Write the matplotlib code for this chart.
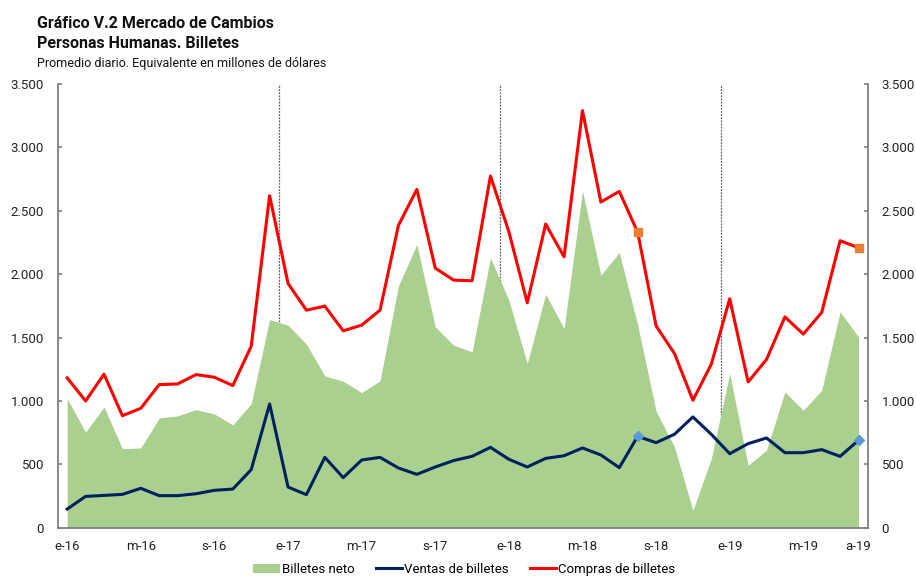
import matplotlib
matplotlib.use("Agg")
import matplotlib.pyplot as plt
from matplotlib.patches import Patch
from matplotlib.lines import Line2D
from matplotlib.ticker import FuncFormatter, MultipleLocator
import numpy as np

plt.rcParams['font.family'] = ['Roboto', 'DejaVu Sans']

# meses ene-16 .. ago-19
meses = ['e-16', 'f-16', 'm-16', 'a-16', 'm-16', 'j-16', 'j-16', 'a-16', 's-16', 'o-16', 'n-16', 'd-16',
         'e-17', 'f-17', 'm-17', 'a-17', 'm-17', 'j-17', 'j-17', 'a-17', 's-17', 'o-17', 'n-17', 'd-17',
         'e-18', 'f-18', 'm-18', 'a-18', 'm-18', 'j-18', 'j-18', 'a-18', 's-18', 'o-18', 'n-18', 'd-18',
         'e-19', 'f-19', 'm-19', 'a-19', 'm-19', 'j-19', 'j-19', 'a-19']

compras = [1182, 1000, 1211, 884, 942, 1129, 1134, 1208, 1187, 1121, 1432, 2619,
           1927, 1716, 1748, 1553, 1598, 1716, 2385, 2669, 2048, 1953, 1948, 2774,
           2335, 1774, 2395, 2137, 3290, 2569, 2653, 2330, 1592, 1374, 1005, 1290,
           1806, 1150, 1327, 1663, 1527, 1698, 2264, 2208]

ventas = [147, 247, 255, 263, 311, 253, 253, 268, 295, 305, 458, 976,
          321, 261, 555, 395, 534, 555, 471, 421, 479, 530, 563, 634,
          540, 479, 547, 568, 629, 574, 474, 721, 671, 737, 874, 737,
          584, 663, 708, 592, 592, 616, 563, 690]

neto = [1019, 753, 953, 624, 629, 866, 882, 932, 897, 811, 979, 1642,
        1598, 1448, 1198, 1155, 1066, 1158, 1908, 2235, 1584, 1440, 1387, 2129,
        1795, 1295, 1842, 1571, 2656, 1992, 2171, 1600, 920, 637, 137, 545,
        1216, 492, 611, 1071, 926, 1084, 1703, 1505]

tick_pos = [0, 4, 8, 12, 16, 20, 24, 28, 32, 36, 40, 43]
cortes_anio = [11.5, 23.5, 35.5]
marcas = [31, 43]

verde = '#A9D08E'
azul = '#002060'
rojo = '#FF0000'
gris = '#808080'
texto = '#222222'

x = np.arange(len(meses))

fig = plt.figure(figsize=(9.16, 5.81), dpi=100)
ax = fig.add_axes([0.0633, 0.0917, 0.884, 0.7637])

for c in cortes_anio:
    ax.axvline(c, color='#606060', linestyle=(0, (1.5, 1)), linewidth=0.9, zorder=1)

ax.fill_between(x, 0, neto, color=verde, linewidth=0, zorder=2)
ax.plot(x, ventas, color=azul, linewidth=2.2, zorder=3)
ax.plot(x, compras, color=rojo, linewidth=2.2, zorder=3)

ax.plot([x[i] for i in marcas], [compras[i] for i in marcas], 's', color='#ED7D31',
        markersize=6, zorder=4)
ax.plot([x[i] for i in marcas], [ventas[i] for i in marcas], 'D', color='#5B9BD5',
        markersize=5, zorder=4)

ax.set_xlim(-0.5, 43.5)
ax.set_ylim(0, 3500)
ax.yaxis.set_major_locator(MultipleLocator(500))
fmt = FuncFormatter(lambda v, p: f"{v:,.0f}".replace(",", "."))
ax.yaxis.set_major_formatter(fmt)
ax.set_xticks(tick_pos)
ax.set_xticklabels([meses[i] for i in tick_pos])

ax.spines['top'].set_visible(False)
for s in ['left', 'right', 'bottom']:
    ax.spines[s].set_color(gris)
    ax.spines[s].set_linewidth(1.3)

ax.tick_params(axis='y', direction='in', length=3, width=1.2, color=gris,
               labelsize=9.5, labelcolor=texto, pad=10, left=True, right=True,
               labelleft=True, labelright=True)
ax.tick_params(axis='x', length=0, labelsize=9.5, labelcolor=texto, pad=9)

fig.text(0.0404, 0.9513, 'Gráfico V.2 Mercado de Cambios', fontsize=11.5,
         fontweight='bold', va='baseline', color='#111111')
fig.text(0.0404, 0.9169, 'Personas Humanas. Billetes', fontsize=11.5,
         fontweight='bold', va='baseline', color='#111111')
fig.text(0.0404, 0.8852, 'Promedio diario. Equivalente en millones de dólares',
         fontsize=9, va='baseline', color='#111111')

handles = [Patch(facecolor=verde, edgecolor='none', label='Billetes neto'),
           Line2D([], [], color=azul, linewidth=2.2, label='Ventas de billetes'),
           Line2D([], [], color=rojo, linewidth=2.2, label='Compras de billetes')]
fig.legend(handles=handles, loc='lower center', bbox_to_anchor=(0.507, -0.012),
           ncol=3, frameon=False, fontsize=9.5, handlelength=2.0,
           handletextpad=0.15, columnspacing=1.6)

fig.savefig('out.png', dpi=100)
